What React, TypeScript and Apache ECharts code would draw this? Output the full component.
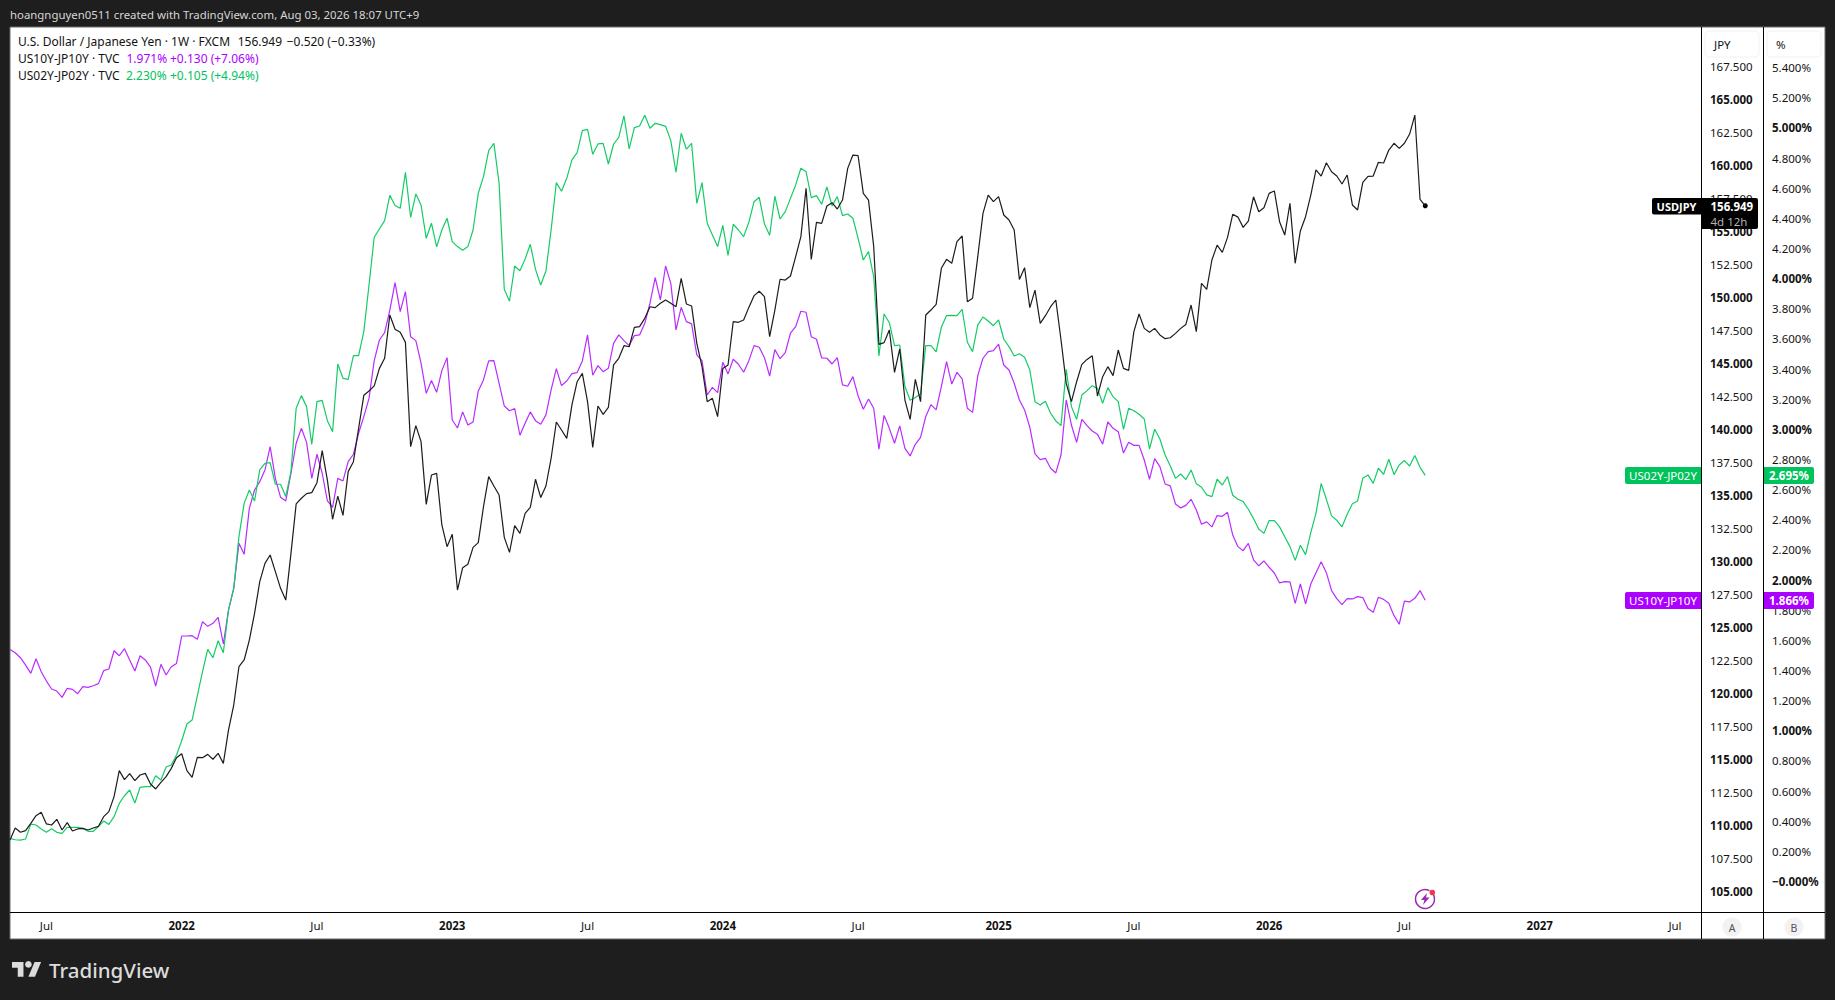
import React, { useEffect, useRef } from "react";
import * as echarts from "echarts";

const firstWeek = "2021-05-17";
const weekCount = 326;
const tickWeeks = ["2021-07-05", "2022-01-03", "2022-07-04", "2023-01-02", "2023-07-03", "2024-01-01", "2024-07-01", "2025-01-06", "2025-07-07", "2026-01-05", "2026-07-06", "2027-01-04", "2027-07-05"];
const jpyTicks = [105, 107.5, 110, 112.5, 115, 117.5, 120, 122.5, 125, 127.5, 130, 132.5, 135, 137.5, 140, 142.5, 145, 147.5, 150, 152.5, 155, 157.5, 160, 162.5, 165, 167.5];
const pctTicks = [0, 0.2, 0.4, 0.6, 0.8, 1, 1.2, 1.4, 1.6, 1.8, 2, 2.2, 2.4, 2.6, 2.8, 3, 3.2, 3.4, 3.6, 3.8, 4, 4.2, 4.4, 4.6, 4.8, 5, 5.2, 5.4];

const usdJpy = [
  108.90, 109.81, 109.49, 109.61, 110.17, 110.75, 111.00, 110.12, 110.04, 110.47,
  109.66, 110.22, 109.59, 109.74, 109.79, 109.66, 109.81, 109.94, 110.67, 111.05,
  112.19, 114.16, 113.48, 113.93, 113.40, 113.83, 113.95, 113.15, 112.77, 113.27,
  113.70, 114.33, 115.14, 115.44, 114.16, 113.65, 115.17, 115.14, 115.39, 115.02,
  115.47, 114.71, 117.24, 119.13, 122.03, 122.54, 124.05, 126.07, 128.47, 129.86,
  130.49, 129.23, 127.97, 127.08, 130.62, 134.36, 134.79, 135.14, 135.22, 135.97,
  138.40, 136.17, 133.20, 134.96, 133.50, 136.81, 137.56, 140.09, 142.59, 142.92,
  143.30, 144.63, 145.39, 148.67, 147.59, 147.36, 146.60, 138.70, 140.29, 139.08,
  134.33, 136.55, 136.68, 132.77, 131.12, 132.06, 127.84, 129.53, 129.79, 131.07,
  131.43, 134.15, 136.43, 135.72, 135.04, 131.83, 130.70, 132.72, 132.13, 133.65,
  134.10, 136.23, 134.84, 135.72, 137.82, 140.57, 139.96, 139.33, 141.86, 143.62,
  144.25, 142.11, 138.65, 141.78, 141.15, 141.68, 144.89, 145.39, 146.35, 146.27,
  147.74, 147.79, 148.42, 149.30, 149.23, 149.56, 149.81, 149.56, 149.30, 151.45,
  149.51, 149.36, 146.53, 144.76, 142.11, 142.36, 140.97, 144.63, 144.89, 148.17,
  148.12, 148.29, 149.25, 150.14, 150.47, 150.06, 147.03, 149.05, 151.38, 151.32,
  151.63, 153.09, 154.61, 158.27, 152.89, 155.69, 155.62, 156.93, 157.18, 156.70,
  157.38, 159.78, 160.79, 160.74, 157.89, 157.38, 153.85, 146.45, 146.58, 147.54,
  144.33, 146.10, 142.23, 140.77, 143.80, 142.11, 148.67, 149.05, 149.48, 152.21,
  152.89, 152.59, 154.23, 154.66, 149.68, 149.94, 153.09, 156.37, 157.76, 157.26,
  157.64, 156.25, 155.87, 155.11, 151.37, 152.26, 149.23, 150.56, 148.04, 148.62,
  149.30, 149.81, 146.78, 143.49, 142.11, 143.62, 144.93, 145.31, 145.59, 142.54,
  144.00, 144.76, 144.08, 146.02, 144.63, 144.48, 147.41, 148.75, 147.66, 147.36,
  147.66, 147.16, 146.88, 146.95, 147.28, 147.66, 147.96, 149.43, 147.41, 151.07,
  150.62, 152.84, 153.97, 153.42, 154.55, 156.30, 156.09, 155.31, 155.79, 157.63,
  156.50, 156.80, 157.89, 158.07, 155.74, 154.73, 157.13, 152.59, 155.04, 156.12,
  157.76, 159.66, 159.20, 160.21, 159.53, 159.20, 158.60, 159.28, 157.01, 156.63,
  158.72, 159.18, 159.20, 160.24, 160.19, 161.17, 161.68, 161.30, 161.68, 162.38,
  163.82, 157.44, 156.949,
];

const us02Jp02 = [
  0.286, 0.277, 0.275, 0.282, 0.381, 0.375, 0.348, 0.326, 0.350, 0.326,
  0.319, 0.359, 0.359, 0.359, 0.352, 0.333, 0.333, 0.364, 0.401, 0.379,
  0.430, 0.518, 0.569, 0.607, 0.521, 0.625, 0.629, 0.629, 0.702, 0.673,
  0.760, 0.773, 0.839, 0.934, 1.045, 1.071, 1.231, 1.392, 1.540, 1.485,
  1.598, 1.518, 1.802, 1.945, 2.288, 2.509, 2.598, 2.525, 2.731, 2.775,
  2.779, 2.636, 2.636, 2.554, 2.720, 3.140, 3.224, 3.151, 2.901, 3.184,
  3.193, 3.058, 2.985, 3.434, 3.339, 3.332, 3.489, 3.489, 3.649, 3.958,
  4.275, 4.330, 4.385, 4.553, 4.485, 4.467, 4.706, 4.407, 4.562, 4.489,
  4.268, 4.368, 4.211, 4.323, 4.401, 4.246, 4.213, 4.188, 4.213, 4.323,
  4.567, 4.677, 4.850, 4.898, 4.633, 3.930, 3.850, 4.084, 4.053, 4.131,
  4.228, 4.062, 3.958, 4.051, 4.323, 4.637, 4.580, 4.666, 4.788, 4.837,
  4.982, 4.991, 4.825, 4.894, 4.898, 4.761, 4.892, 4.938, 5.080, 4.861,
  5.002, 5.013, 5.084, 4.998, 5.031, 5.022, 5.011, 4.916, 4.706, 4.965,
  4.859, 4.898, 4.500, 4.637, 4.368, 4.290, 4.213, 4.354, 4.155, 4.361,
  4.323, 4.279, 4.374, 4.511, 4.540, 4.363, 4.288, 4.547, 4.396, 4.445,
  4.533, 4.622, 4.733, 4.710, 4.538, 4.551, 4.494, 4.609, 4.483, 4.545,
  4.418, 4.429, 4.401, 4.268, 4.124, 4.180, 4.014, 3.487, 3.766, 3.708,
  3.556, 3.560, 3.284, 3.193, 3.211, 3.235, 3.556, 3.556, 3.514, 3.677,
  3.755, 3.757, 3.755, 3.797, 3.578, 3.516, 3.693, 3.746, 3.719, 3.688,
  3.726, 3.598, 3.549, 3.487, 3.502, 3.478, 3.394, 3.184, 3.162, 3.186,
  3.107, 3.056, 3.025, 3.399, 3.151, 3.067, 3.228, 3.257, 3.290, 3.272,
  3.173, 3.277, 3.217, 3.184, 3.000, 3.140, 3.124, 3.100, 3.069, 2.870,
  3.001, 2.936, 2.830, 2.757, 2.675, 2.704, 2.667, 2.731, 2.640, 2.616,
  2.565, 2.554, 2.669, 2.631, 2.687, 2.563, 2.536, 2.521, 2.470, 2.408,
  2.339, 2.310, 2.395, 2.395, 2.353, 2.288, 2.222, 2.131, 2.231, 2.169,
  2.315, 2.443, 2.642, 2.536, 2.426, 2.397, 2.353, 2.437, 2.507, 2.525,
  2.675, 2.698, 2.642, 2.742, 2.702, 2.802, 2.700, 2.764, 2.793, 2.757,
  2.826, 2.748, 2.695,
];

const us10Jp10 = [
  1.540, 1.518, 1.485, 1.436, 1.381, 1.478, 1.392, 1.330, 1.277, 1.264,
  1.222, 1.282, 1.275, 1.246, 1.293, 1.288, 1.299, 1.313, 1.399, 1.410,
  1.531, 1.498, 1.545, 1.470, 1.397, 1.498, 1.470, 1.423, 1.297, 1.441,
  1.370, 1.425, 1.447, 1.629, 1.629, 1.631, 1.607, 1.724, 1.693, 1.713,
  1.753, 1.576, 1.802, 1.945, 2.244, 2.171, 2.476, 2.598, 2.653, 2.731,
  2.886, 2.675, 2.549, 2.525, 2.709, 2.908, 3.007, 2.914, 2.675, 2.835,
  2.709, 2.525, 2.483, 2.675, 2.658, 2.786, 2.835, 2.974, 3.085, 3.206,
  3.456, 3.593, 3.642, 3.792, 3.974, 3.781, 3.914, 3.615, 3.589, 3.439,
  3.239, 3.324, 3.246, 3.390, 3.476, 3.062, 3.009, 3.116, 3.029, 3.049,
  3.255, 3.328, 3.454, 3.456, 3.306, 3.155, 3.124, 3.138, 2.961, 3.040,
  3.116, 3.058, 3.034, 3.096, 3.262, 3.403, 3.290, 3.321, 3.370, 3.377,
  3.454, 3.627, 3.359, 3.423, 3.383, 3.405, 3.571, 3.627, 3.589, 3.556,
  3.622, 3.627, 3.704, 3.837, 4.007, 3.859, 4.084, 3.969, 3.660, 3.810,
  3.715, 3.700, 3.494, 3.456, 3.228, 3.279, 3.244, 3.445, 3.368, 3.465,
  3.432, 3.379, 3.456, 3.556, 3.545, 3.476, 3.354, 3.529, 3.469, 3.509,
  3.638, 3.682, 3.784, 3.777, 3.615, 3.598, 3.474, 3.472, 3.434, 3.476,
  3.295, 3.286, 3.350, 3.222, 3.133, 3.202, 3.140, 2.868, 3.093, 3.007,
  2.908, 3.023, 2.874, 2.824, 2.901, 2.947, 3.085, 3.164, 3.129, 3.284,
  3.450, 3.301, 3.379, 3.335, 3.140, 3.113, 3.357, 3.472, 3.516, 3.523,
  3.565, 3.427, 3.394, 3.306, 3.195, 3.129, 3.014, 2.837, 2.799, 2.808,
  2.742, 2.711, 2.830, 3.195, 3.029, 2.914, 3.067, 3.025, 2.989, 2.967,
  2.903, 3.049, 3.007, 2.985, 2.843, 2.914, 2.894, 2.894, 2.797, 2.669,
  2.806, 2.753, 2.638, 2.625, 2.505, 2.479, 2.496, 2.536, 2.465, 2.370,
  2.386, 2.353, 2.428, 2.423, 2.450, 2.299, 2.222, 2.195, 2.244, 2.134,
  2.094, 2.127, 2.085, 2.047, 1.981, 1.990, 1.988, 1.846, 1.974, 1.842,
  1.974, 2.049, 2.122, 2.049, 1.930, 1.877, 1.837, 1.877, 1.875, 1.890,
  1.884, 1.811, 1.786, 1.886, 1.872, 1.846, 1.764, 1.707, 1.861, 1.855,
  1.879, 1.930, 1.866,
];

const FONT = '"Noto Sans", sans-serif';
const BG = "#1e1e1e";
const GREEN = "#00c35b";
const PURPLE = "#ab00ff";
const GREEN_LINE = "#14cc66";
const PURPLE_LINE = "#b92cff";
const INK = "#131313";

const weeks: string[] = [];
{
  const start = Date.parse(firstWeek + "T00:00:00Z");
  for (let i = 0; i < weekCount; i++) {
    weeks.push(new Date(start + i * 7 * 86400000).toISOString().slice(0, 10));
  }
}

const txt = (x: number, y: number, text: string, fill: string, opts: any = {}) => ({
  type: "text",
  x,
  y,
  z: opts.z ?? 20,
  silent: true,
  style: {
    text,
    fill,
    font: `${opts.weight ?? "normal"} ${opts.size ?? 11.5}px ${FONT}`,
    align: opts.align ?? "left",
    verticalAlign: "middle",
  },
});

const box = (x: number, y: number, width: number, height: number, fill: string, r: any = 2, z = 30) => ({
  type: "rect",
  z,
  silent: true,
  shape: { x, y, width, height, r },
  style: { fill },
});

const rule = (x1: number, y1: number, x2: number, y2: number, stroke = "#000000") => ({
  type: "line",
  z: 10,
  silent: true,
  shape: { x1, y1, x2, y2 },
  style: { stroke, lineWidth: 1 },
});

export default function App() {
  const ref = useRef<HTMLDivElement>(null);
  useEffect(() => {
    document.body.style.margin = "0";
    document.body.style.background = BG;
    echarts.graphic.registerShape(
      "tvlogo",
      echarts.graphic.extendPath("M14 22H7V11H0V4h14v18zM28 22h-8l7.5-18h8L28 22z", {}) as any
    );
    echarts.graphic.registerShape(
      "bolt",
      echarts.graphic.extendPath("M6 0L0 7h3.5L2 12l6.5-7.5H5L6 0z", {}) as any
    );
    const chart = echarts.init(ref.current!, undefined, { renderer: "svg" });
    const pctLabel = (v: number) => (Math.abs(v) < 1e-9 ? "\u22120.000%" : v.toFixed(3) + "%");
    const tickSet = new Set(tickWeeks);
    const option: any = {
      animation: false,
      backgroundColor: BG,
      grid: { left: 10, right: 134, top: 27, bottom: 88, containLabel: false },
      xAxis: {
        type: "category",
        data: weeks,
        boundaryGap: false,
        axisLine: { show: false },
        axisTick: { show: false },
        splitLine: { show: false },
        axisLabel: {
          margin: 7,
          interval: (_i: number, v: string) => tickSet.has(v),
          hideOverlap: false,
          showMinLabel: true,
          showMaxLabel: true,
          formatter: (v: string) => (v.slice(5, 7) === "07" ? `{n|Jul}` : `{b|${v.slice(0, 4)}}`),
          rich: {
            n: { fontFamily: FONT, fontSize: 11.5, color: INK },
            b: { fontFamily: FONT, fontSize: 11.5, color: INK, fontWeight: "bold" },
          },
        },
      },
      yAxis: [
        {
          type: "value",
          position: "right",
          min: 103.45,
          max: 170.49,
          axisLine: { show: false },
          axisTick: { show: false },
          splitLine: { show: false },
          axisLabel: {
            customValues: jpyTicks,
            margin: 9,
            formatter: (v: number) => (v % 5 === 0 ? `{b|${v.toFixed(3)}}` : `{n|${v.toFixed(3)}}`),
            rich: {
              n: { fontFamily: FONT, fontSize: 11.5, color: INK },
              b: { fontFamily: FONT, fontSize: 11.5, color: INK, fontWeight: "bold" },
            },
          },
        },
        {
          type: "value",
          position: "right",
          offset: 62,
          min: -0.2024,
          max: 5.67,
          axisLine: { show: false },
          axisTick: { show: false },
          splitLine: { show: false },
          axisLabel: {
            customValues: pctTicks,
            margin: 9,
            formatter: (v: number) =>
              Math.abs(v - Math.round(v)) < 1e-6 ? `{b|${pctLabel(v)}}` : `{n|${pctLabel(v)}}`,
            rich: {
              n: { fontFamily: FONT, fontSize: 11.5, color: INK },
              b: { fontFamily: FONT, fontSize: 11.5, color: INK, fontWeight: "bold" },
            },
          },
        },
      ],
      series: [
        {
          name: "US10Y-JP10Y",
          type: "line",
          yAxisIndex: 1,
          data: us10Jp10,
          showSymbol: false,
          lineStyle: { color: PURPLE_LINE, width: 1.2 },
          z: 3,
        },
        {
          name: "US02Y-JP02Y",
          type: "line",
          yAxisIndex: 1,
          data: us02Jp02,
          showSymbol: false,
          lineStyle: { color: GREEN_LINE, width: 1.2 },
          z: 4,
        },
        {
          name: "USDJPY",
          type: "line",
          yAxisIndex: 0,
          data: usdJpy,
          showSymbol: false,
          lineStyle: { color: "#1c1c1c", width: 1.2 },
          z: 5,
          markPoint: {
            symbol: "circle",
            symbolSize: 5,
            silent: true,
            itemStyle: { color: "#000000" },
            label: { show: false },
            data: [{ coord: [usdJpy.length - 1, usdJpy[usdJpy.length - 1]] }],
          },
        },
      ],
      graphic: {
        elements: [
          {
            type: "rect",
            z: -10,
            silent: true,
            shape: { x: 10, y: 27, width: 1815, height: 912 },
            style: { fill: "#ffffff", stroke: "#6a6a6a", lineWidth: 1 },
          },
          rule(10, 912.5, 1825, 912.5),
          rule(1701.5, 27, 1701.5, 939),
          rule(1763.5, 27, 1763.5, 939),

          txt(10, 14.5, "hoangnguyen0511 created with TradingView.com, Aug 03, 2026 18:07 UTC+9", "#d6d6d6", { size: 11.4 }),
          txt(18, 41.5, "U.S. Dollar / Japanese Yen \u00b7 1W \u00b7 FXCM", INK, { size: 12 }),
          txt(237.7, 41.5, "156.949", INK, { size: 12 }),
          txt(286.7, 41.5, "\u22120.520 (\u22120.33%)", INK, { size: 12 }),
          txt(18, 58.5, "US10Y-JP10Y \u00b7 TVC", INK, { size: 12 }),
          txt(126.5, 58.5, "1.971%", PURPLE, { size: 12 }),
          txt(170, 58.5, "+0.130 (+7.06%)", PURPLE, { size: 12 }),
          txt(18, 75.5, "US02Y-JP02Y \u00b7 TVC", INK, { size: 12 }),
          txt(126, 75.5, "2.230%", GREEN, { size: 12 }),
          txt(170, 75.5, "+0.105 (+4.94%)", GREEN, { size: 12 }),

          {
            type: "rect", z: 15, silent: true,
            shape: { x: 1705, y: 31, width: 54, height: 26, r: 4 },
            style: { fill: "#ffffff", stroke: "#f2f2f2", lineWidth: 1 },
          },
          {
            type: "rect", z: 15, silent: true,
            shape: { x: 1767, y: 31, width: 54, height: 26, r: 4 },
            style: { fill: "#ffffff", stroke: "#f2f2f2", lineWidth: 1 },
          },
          txt(1714, 44.5, "JPY", INK),
          txt(1776, 44.5, "%", INK),

          { type: "circle", z: 15, silent: true, shape: { cx: 1732, cy: 927, r: 9.5 }, style: { fill: "#f2f2f2" } },
          { type: "circle", z: 15, silent: true, shape: { cx: 1794, cy: 927, r: 9.5 }, style: { fill: "#f2f2f2" } },
          txt(1732, 927.5, "A", "#555555", { align: "center", size: 10.5 }),
          txt(1794, 927.5, "B", "#555555", { align: "center", size: 10.5 }),

          box(1652, 198, 50, 16.5, "#000000", [2, 0, 0, 2]),
          box(1701, 198, 57, 31, "#000000", [0, 2, 2, 0]),
          txt(1676.5, 206.5, "USDJPY", "#ffffff", { align: "center", weight: "bold", z: 31, size: 11 }),
          txt(1710.5, 206.5, "156.949", "#ffffff", { weight: "bold", z: 31 }),
          txt(1710.5, 221, "4d 12h", "#b3b3b3", { z: 31 }),

          box(1625, 467, 76, 17, GREEN, [2, 0, 0, 2]),
          box(1764, 467, 50, 17, GREEN, [0, 2, 2, 0]),
          txt(1663, 475.5, "US02Y-JP02Y", "#ffffff", { align: "center", z: 31, size: 11.5 }),
          txt(1789, 475.5, "2.695%", "#ffffff", { align: "center", weight: "bold", z: 31 }),

          box(1625, 592, 76, 17, PURPLE, [2, 0, 0, 2]),
          box(1764, 592, 50, 17, PURPLE, [0, 2, 2, 0]),
          txt(1663, 600.5, "US10Y-JP10Y", "#ffffff", { align: "center", z: 31, size: 11.5 }),
          txt(1789, 600.5, "1.866%", "#ffffff", { align: "center", weight: "bold", z: 31 }),

          {
            type: "arc", z: 15, silent: true,
            shape: { cx: 1425, cy: 899, r: 9.5, startAngle: -1.0, endAngle: 5.2 },
            style: { stroke: "#9c27b0", lineWidth: 1.5, fill: "none" },
          },
          {
            type: "bolt", x: 1421, y: 893, z: 16, silent: true,
            style: { fill: "#9c27b0" },
          },
          { type: "circle", z: 17, silent: true, shape: { cx: 1432.3, cy: 892.5, r: 2.8 }, style: { fill: "#f23645" } },

          {
            type: "tvlogo", x: 12, y: 958.7, scaleX: 0.82, scaleY: 0.82, z: 20, silent: true,
            style: { fill: "#dcdcdc" },
          },
          { type: "circle", z: 20, silent: true, shape: { cx: 28.4, cy: 964.4, r: 3.3 }, style: { fill: "#dcdcdc" } },
          txt(49, 969.5, "TradingView", "#dcdcdc", { size: 20.5, weight: 500 }),
        ],
      },
    };
    chart.setOption(option);
    return () => chart.dispose();
  }, []);
  return <div ref={ref} style={{ width: 1835, height: 1000 }} />;
}
